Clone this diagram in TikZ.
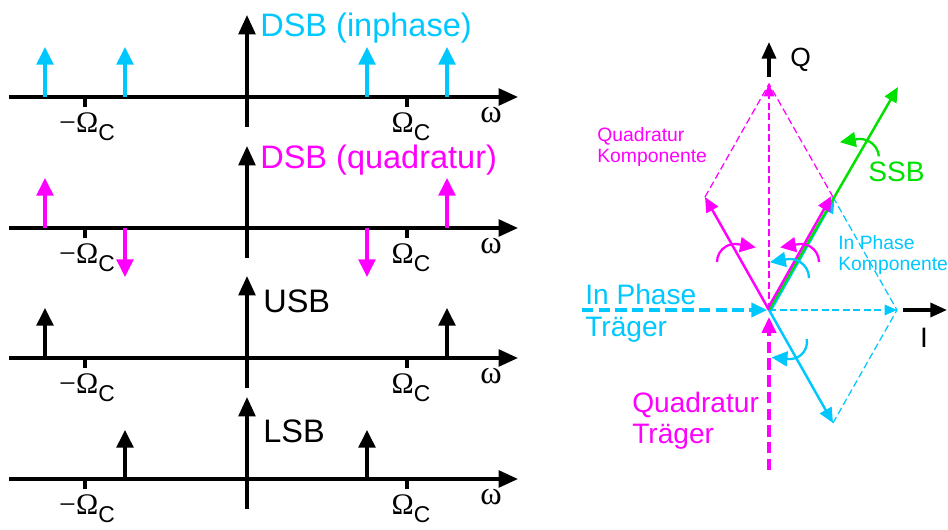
\documentclass[tikz,border=0pt]{standalone}
\usepackage{fontspec}
\setmainfont{Liberation Sans}
\newfontfamily\serifgreek{Liberation Serif}
\usetikzlibrary{arrows.meta,positioning,calc}

\definecolor{cyanblue}{RGB}{0,200,255}
\definecolor{magentapink}{RGB}{255,0,255}
\definecolor{ssbgreen}{RGB}{0,225,0}

\newcommand{\carrierlabel}[1]{{\fontsize{17}{17}\serifgreek #1}\raisebox{-4pt}{\fontsize{13}{13}\selectfont C}}

\begin{document}
\begin{tikzpicture}[
    x=0.02cm, y=-0.02cm,
    font=\fontsize{18.5}{21}\selectfont,
    axis/.style={line width=1.9pt, -{Triangle[length=11pt, width=9.5pt]}},
    tickmark/.style={line width=1.9pt},
    impulse/.style={line width=1.9pt, -{Triangle[length=10pt, width=9.5pt]}},
    freq/.style={inner sep=0pt, anchor=base},
    tag/.style={inner sep=0pt, anchor=base west},
    iqaxis/.style={line width=1.9pt, -{Triangle[length=9.5pt, width=8pt]}},
    phasor/.style={line width=1.4pt, -{Triangle[length=8.5pt, width=7.5pt]}},
    helper/.style={line width=0.7pt, dash pattern=on 4pt off 2pt},
    helperarr/.style={helper, -{Triangle[length=7pt, width=6pt]}},
    carrier/.style={line width=1.9pt, dash pattern=on 6.5pt off 3pt, -{Triangle[length=9pt, width=8pt]}},
    turn/.style={line width=1.3pt, -{Triangle[length=9pt, width=8.5pt]}}
]
    \useasboundingbox (0,0) rectangle (948,530);

    %% Spektren: Achsen
    \foreach \Y/\r in {97/1, 228/2, 358/3, 479/4} {
        \draw[axis] (9,\Y) -- (518,\Y);
        \draw[axis] (247,\Y+30) -- (247,\Y-82);
        \draw[tickmark] (85,\Y) -- (85,\Y+10) (407,\Y) -- (407,\Y+10);
        \node[freq] (mneg\r) at (87,\Y+36) {\carrierlabel{−Ω}};
        \node[freq] (mpos\r) at (411,\Y+36) {\carrierlabel{Ω}};
        \node[freq] (omega\r) at (491,\Y+26) {\serifgreek ω};
    }

    %% DSB (inphase)
    \draw[impulse, cyanblue] (45,97) -- (45,47);
    \draw[impulse, cyanblue] (125,97) -- (125,47);
    \draw[impulse, cyanblue] (367,97) -- (367,47);
    \draw[impulse, cyanblue] (447,97) -- (447,47);
    \node[tag, text=cyanblue] (dsbi) at (260,37) {DSB (inphase)};
    %% DSB (quadratur)
    \draw[impulse, magentapink] (45,228) -- (45,178);
    \draw[impulse, magentapink] (125,228) -- (125,277);
    \draw[impulse, magentapink] (367,228) -- (367,277);
    \draw[impulse, magentapink] (447,228) -- (447,178);
    \node[tag, text=magentapink] (dsbq) at (260,169) {DSB (quadratur)};
    %% USB
    \draw[impulse] (45,358) -- (45,308);
    \draw[impulse] (447,358) -- (447,308);
    \node[tag] (usb) at (263,313) {USB};
    %% LSB
    \draw[impulse] (125,479) -- (125,430);
    \draw[impulse] (367,479) -- (367,430);
    \node[tag] (lsb) at (263,443) {LSB};

    %% Zeigerdiagramm: Punkte
    \coordinate (O) at (769,310);
    \coordinate (qsum) at (769,84);
    \coordinate (qleft) at (705,197);
    \coordinate (qright) at (833,197);
    \coordinate (isum) at (897,310);
    \coordinate (idown) at (833,423);
    \coordinate (ssb) at (898,87);
    \coordinate (icarr) at (582,310);
    \coordinate (qcarr) at (769,470);
    \coordinate (ibeg) at (903,310);
    \coordinate (iend) at (947,310);
    \coordinate (qbeg) at (769,77);
    \coordinate (qend) at (769,42);

    %% I/Q-Achsen
    \draw[iqaxis] (ibeg) -- (iend);
    \node[freq, font=\fontsize{16}{16}\selectfont] (ilabel) at (924,348) {I};
    \draw[iqaxis] (qbeg) -- (qend);
    \node[tag, font=\fontsize{15}{15}\selectfont] (qlabel) at (790,67) {Q};

    %% Hilfslinien
    \draw[helperarr, magentapink] (O) -- (qsum);
    \draw[helper, magentapink] (qleft) -- (qsum) -- (qright);
    \draw[helperarr, cyanblue] (O) -- (isum);
    \draw[helper, cyanblue] (qright) -- (isum) -- (idown);

    %% Zeiger
    \draw[phasor, cyanblue] ([shift={(1.5,1)}]O) -- ([shift={(1.5,1)}]qright);
    \draw[phasor, cyanblue] (O) -- (idown);
    \draw[phasor, ssbgreen] (O) -- (ssb);
    \draw[phasor, magentapink] ([shift={(-1.5,-1)}]O) -- ([shift={(-1.5,-1)}]qright);
    \draw[phasor, magentapink] (O) -- (qleft);

    %% Traeger
    \draw[carrier, cyanblue, shorten >=1pt] (icarr) -- (O);
    \draw[carrier, magentapink, shorten >=4pt] (qcarr) -- (O);

    %% Drehrichtungen
    \coordinate (cssb) at (860,158);
    \coordinate (cql) at (735,262);
    \coordinate (cqr) at (801,262);
    \coordinate (ciu) at (790,278);
    \coordinate (cid) at (790,342);
    \draw[turn, ssbgreen] ($(cssb)+(5:0.38cm)$) arc[start angle=5, end angle=100, radius=0.38cm] -- ++(190:0.34cm);
    \draw[turn, magentapink] ($(cql)+(180:0.36cm)$) arc[start angle=180, end angle=80, radius=0.36cm] -- ++(-10:0.36cm);
    \draw[turn, magentapink] ($(cqr)+(0:0.36cm)$) arc[start angle=0, end angle=100, radius=0.36cm] -- ++(190:0.36cm);
    \draw[turn, cyanblue] ($(ciu)+(0:0.38cm)$) arc[start angle=0, end angle=100, radius=0.38cm] -- ++(190:0.34cm);
    \draw[turn, cyanblue] ($(cid)+(10:0.34cm)$) arc[start angle=10, end angle=-95, radius=0.34cm] -- ++(175:0.34cm);

    %% Beschriftungen
    \node[tag, text=ssbgreen, font=\fontsize{16}{16}\selectfont] (ssblabel) at (868,182) {SSB};
    \node[tag, text=cyanblue, align=left, font=\fontsize{16}{18.5}\selectfont] (ipcarr) at (585,337) {In Phase\\Träger};
    \node[tag, text=magentapink, align=left, font=\fontsize{16}{18.2}\selectfont] (qcarrlabel) at (632,444) {Quadratur\\Träger};
    \node[tag, text=magentapink, align=left, font=\fontsize{11}{12.5}\selectfont] (qkomp) at (597,163) {Quadratur\\Komponente};
    \node[tag, text=cyanblue, align=left, font=\fontsize{11}{12.2}\selectfont] (ikomp) at (838,271) {In Phase\\Komponente};
\end{tikzpicture}
\end{document}
